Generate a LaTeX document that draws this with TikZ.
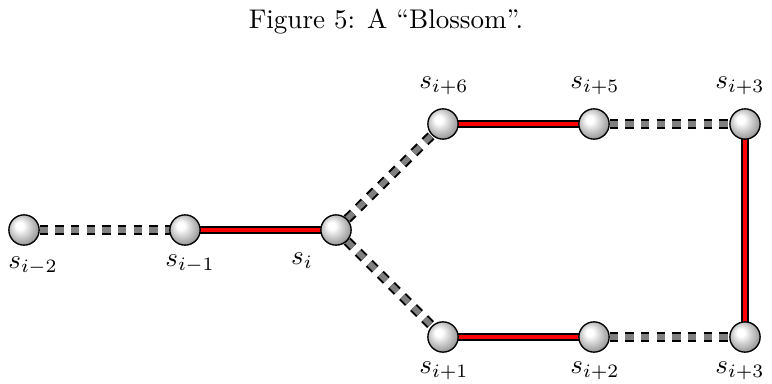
\documentclass[tikz,border=0pt]{standalone}
\usetikzlibrary{shapes.geometric}
\pgfdeclareradialshading{softball}{\pgfpoint{-8bp}{8bp}}{color(0bp)=(white); color(6bp)=(white); color(18bp)=(black!22); color(28bp)=(black!40); color(40bp)=(black!55); color(50bp)=(black!60)}
\tikzset{
  ball/.style={circle, draw=black, line width=0.5pt, shading=softball, minimum size=11.2pt, inner sep=0pt},
  lab/.style={inner sep=0pt},
  matched/.style={draw=black, line width=0.55pt, double=red, double distance=1.7pt},
  unmatched/.style={draw=black, line width=0.75pt, double=gray, double distance=2.1pt, dash pattern=on 3.1pt off 2.7pt},
}
\begin{document}
\begin{tikzpicture}[x=0.37pt, y=-0.37pt]
\useasboundingbox (0,0) rectangle (772,383);
\node[inner sep=0pt, anchor=base] (title) at (386,28) {Figure 5: A ``Blossom''.};
% node positions
\coordinate (pa) at (24,230);
\coordinate (pb) at (185,230);
\coordinate (pc) at (336,230);
\coordinate (pd) at (443,124);
\coordinate (pe) at (594,124);
\coordinate (pf) at (745,124);
\coordinate (pg) at (443,337);
\coordinate (ph) at (594,337);
\coordinate (pk) at (745,337);
% edges
\draw[unmatched] (pa) -- (pb);
\draw[matched] (pb) -- (pc);
\draw[unmatched] (pc) -- (pd);
\draw[unmatched] (pc) -- (pg);
\draw[matched] (pd) -- (pe);
\draw[unmatched] (pe) -- (pf);
\draw[matched] (pf) -- (pk);
\draw[matched] (pg) -- (ph);
\draw[unmatched] (ph) -- (pk);
% nodes
\node[ball] (a) at (pa) {};
\node[ball] (b) at (pb) {};
\node[ball] (c) at (pc) {};
\node[ball] (d) at (pd) {};
\node[ball] (e) at (pe) {};
\node[ball] (f) at (pf) {};
\node[ball] (g) at (pg) {};
\node[ball] (h) at (ph) {};
\node[ball] (k) at (pk) {};
% labels
\node[lab] (la) at (33,266) {$s_{i-2}$};
\node[lab] (lb) at (190,264) {$s_{i-1}$};
\node[lab] (lc) at (302,261) {$s_{i}$};
\node[lab] (ld) at (444,86) {$s_{i+6}$};
\node[lab] (le) at (595,86) {$s_{i+5}$};
\node[lab] (lf) at (740,86) {$s_{i+3}$};
\node[lab] (lg) at (444,371) {$s_{i+1}$};
\node[lab] (lh) at (595,371) {$s_{i+2}$};
\node[lab] (lk) at (740,371) {$s_{i+3}$};
\end{tikzpicture}
\end{document}
